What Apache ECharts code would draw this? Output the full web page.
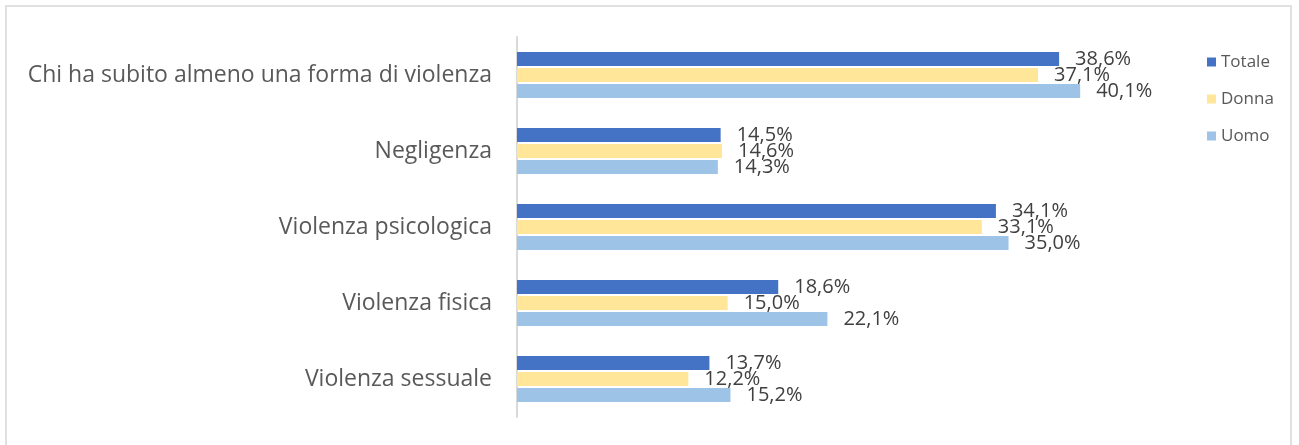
<!DOCTYPE html>
<html>
<head>
<meta charset="utf-8">
<script src="https://cdn.jsdelivr.net/npm/echarts@6/dist/echarts.min.js"></script>
<style>
  html, body { margin: 0; padding: 0; background: #fff; }
  .frame {
    position: absolute; left: 5px; top: 5px; width: 1287px; height: 450px;
    border: 2px solid #e0e0e0; border-bottom: none; box-sizing: border-box;
  }
  #chart { position: absolute; left: 0; top: 0; width: 1299px; height: 445px; }
</style>
</head>
<body>
<div class="frame"></div>
<div id="chart"></div>
<script>
const categories = [
  'Chi ha subito almeno una forma di violenza',
  'Negligenza',
  'Violenza psicologica',
  'Violenza fisica',
  'Violenza sessuale'
];
const totale = [38.6, 14.5, 34.1, 18.6, 13.7];
const donna = [37.1, 14.6, 33.1, 15.0, 12.2];
const uomo = [40.1, 14.3, 35.0, 22.1, 15.2];

const seriesNames = ['Totale', 'Donna', 'Uomo'];
const seriesColors = ['#4472C4', '#FFE699', '#9DC3E6'];

const chart = echarts.init(document.getElementById('chart'));

// etichetta con la virgola decimale
function labelFor() {
  return {
    show: true,
    position: 'right',
    distance: 16,
    color: '#404040',
    fontSize: 20,
    fontFamily: 'Open Sans',
    formatter: p => p.value.toFixed(1).replace('.', ',') + '%'
  };
}

const option = {
  animation: false,
  textStyle: { fontFamily: 'Open Sans' },
  legend: {
    orient: 'vertical',
    left: 1202,
    top: 45,
    itemWidth: 9,
    itemHeight: 9,
    itemGap: 13,
    icon: 'rect',
    textStyle: { color: '#595959', fontSize: 17, fontFamily: 'Open Sans', lineHeight: 24 },
    data: seriesNames
  },
  grid: { left: 517, right: 150, top: 37, bottom: 28 },
  xAxis: {
    type: 'value',
    min: 0,
    max: 45,
    show: false
  },
  yAxis: {
    type: 'category',
    inverse: true,
    data: categories,
    axisLine: { show: true, lineStyle: { color: '#D9D9D9', width: 2 } },
    axisTick: { show: false },
    axisLabel: { color: '#595959', fontSize: 23, margin: 25, fontFamily: 'Open Sans' }
  },
  series: [
    { name: 'Totale', type: 'bar', data: totale, itemStyle: { color: seriesColors[0] } },
    { name: 'Donna', type: 'bar', data: donna, itemStyle: { color: seriesColors[1] } },
    { name: 'Uomo', type: 'bar', data: uomo, itemStyle: { color: seriesColors[2] } }
  ].map(s => Object.assign(s, {
    barWidth: 14,
    barGap: '15%',
    label: labelFor()
  }))
};

chart.setOption(option);
</script>
</body>
</html>
